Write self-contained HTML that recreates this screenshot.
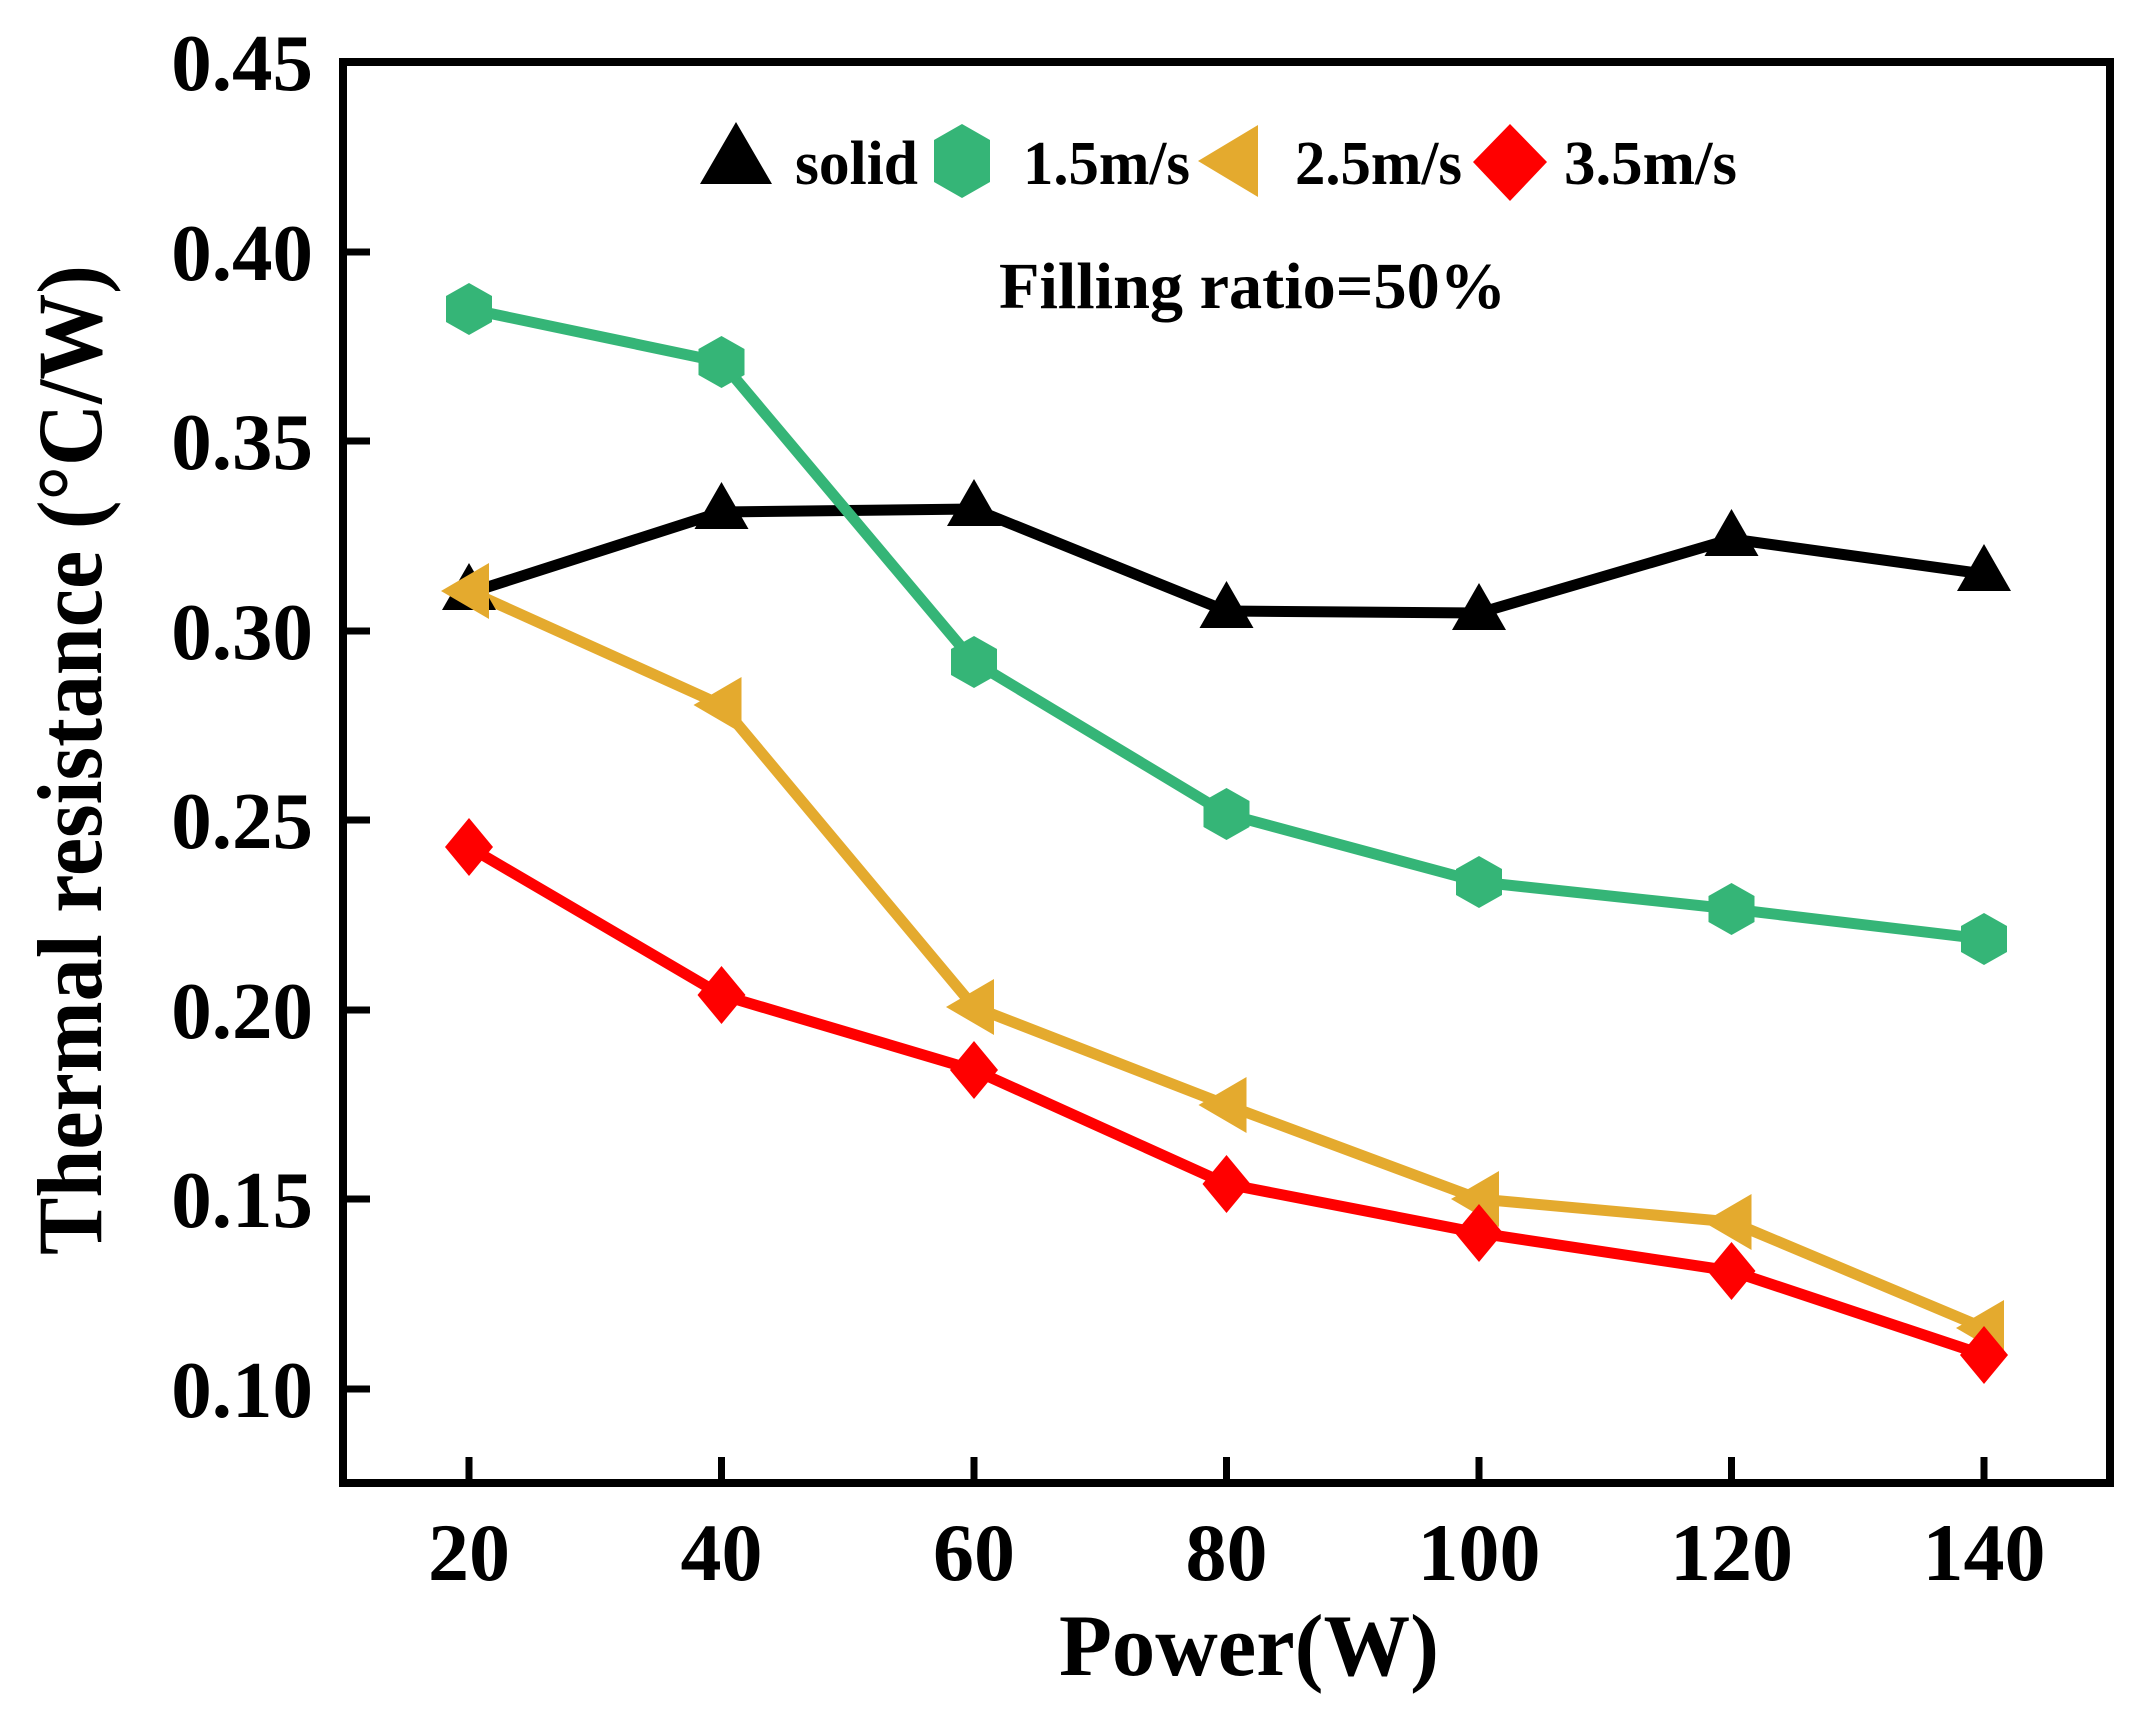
<!DOCTYPE html>
<html><head><meta charset="utf-8"><style>
html,body{margin:0;padding:0;background:#fff;width:2141px;height:1716px;overflow:hidden}
svg text{font-family:"Liberation Serif",serif;font-weight:bold;fill:#000}
</style></head><body>
<svg width="2141" height="1716" viewBox="0 0 2141 1716" xmlns="http://www.w3.org/2000/svg">
<defs>
<path id="tri" d="M0,-30 L27,17 L-27,17 Z"/>
<path id="hex" d="M0,-26 L23,-13 L23,13 L0,26 L-23,13 L-23,-13 Z"/>
<path id="ltri" d="M-28,0 L20,-28 L20,28 Z"/>
<path id="dia" d="M0,-29 L24,0 L0,29 L-24,0 Z"/>
</defs>
<rect x="343" y="62" width="1767" height="1421" fill="none" stroke="#000" stroke-width="8"/>
<g stroke="#000" stroke-width="7">
<line x1="343" y1="252" x2="370" y2="252"/><line x1="343" y1="441" x2="370" y2="441"/>
<line x1="343" y1="631" x2="370" y2="631"/><line x1="343" y1="820" x2="370" y2="820"/>
<line x1="343" y1="1010" x2="370" y2="1010"/><line x1="343" y1="1199" x2="370" y2="1199"/>
<line x1="343" y1="1389" x2="370" y2="1389"/>
<line x1="469" y1="1483" x2="469" y2="1457"/><line x1="721.5" y1="1483" x2="721.5" y2="1457"/>
<line x1="974" y1="1483" x2="974" y2="1457"/><line x1="1226.5" y1="1483" x2="1226.5" y2="1457"/>
<line x1="1479" y1="1483" x2="1479" y2="1457"/><line x1="1731.5" y1="1483" x2="1731.5" y2="1457"/>
<line x1="1984" y1="1483" x2="1984" y2="1457"/>
</g>
<g font-size="81" text-anchor="end">
<text x="313" y="90">0.45</text><text x="313" y="280">0.40</text><text x="313" y="469">0.35</text>
<text x="313" y="659">0.30</text><text x="313" y="848">0.25</text><text x="313" y="1038">0.20</text>
<text x="313" y="1227">0.15</text><text x="313" y="1417">0.10</text>
</g>
<g font-size="82" text-anchor="middle">
<text x="469" y="1580">20</text><text x="721.5" y="1580">40</text><text x="974" y="1580">60</text>
<text x="1226.5" y="1580">80</text><text x="1479" y="1580">100</text><text x="1731.5" y="1580">120</text>
<text x="1984" y="1580">140</text>
</g>
<text x="1059" y="1675" font-size="88" textLength="380" lengthAdjust="spacingAndGlyphs">Power(W)</text>
<text transform="translate(101,1255) rotate(-90)" font-size="92" textLength="990" lengthAdjust="spacingAndGlyphs">Thermal resistance (°C/W)</text>
<g fill="none" stroke-width="11" stroke-linejoin="round">
<polyline stroke="#000" points="469,593 721.5,512 974,509 1226.5,611 1479,613 1731.5,539 1984,574"/>
<polyline stroke="#35b577" points="469,309 721.5,362 974,662 1226.5,814 1479,882 1731.5,909 1984,939"/>
<polyline stroke="#e4aa2e" points="469,591 721.5,705 974,1007 1226.5,1105 1479,1199 1731.5,1222 1984,1328"/>
<polyline stroke="#ff0000" points="469,847 721.5,995 974,1070 1226.5,1184 1479,1233 1731.5,1271 1984,1355"/>
</g>
<g fill="#000">
<use href="#tri" x="469" y="593"/><use href="#tri" x="721.5" y="512"/><use href="#tri" x="974" y="509"/>
<use href="#tri" x="1226.5" y="611"/><use href="#tri" x="1479" y="613"/><use href="#tri" x="1731.5" y="539"/><use href="#tri" x="1984" y="574"/>
</g>
<g fill="#35b577">
<use href="#hex" x="469" y="309"/><use href="#hex" x="721.5" y="362"/><use href="#hex" x="974" y="662"/>
<use href="#hex" x="1226.5" y="814"/><use href="#hex" x="1479" y="882"/><use href="#hex" x="1731.5" y="909"/><use href="#hex" x="1984" y="939"/>
</g>
<g fill="#e4aa2e">
<use href="#ltri" x="469" y="591"/><use href="#ltri" x="721.5" y="705"/><use href="#ltri" x="974" y="1007"/>
<use href="#ltri" x="1226.5" y="1105"/><use href="#ltri" x="1479" y="1199"/><use href="#ltri" x="1731.5" y="1222"/><use href="#ltri" x="1984" y="1328"/>
</g>
<g fill="#ff0000">
<use href="#dia" x="469" y="847"/><use href="#dia" x="721.5" y="995"/><use href="#dia" x="974" y="1070"/>
<use href="#dia" x="1226.5" y="1184"/><use href="#dia" x="1479" y="1233"/><use href="#dia" x="1731.5" y="1271"/><use href="#dia" x="1984" y="1355"/>
</g>
<path d="M736,122 L772,184 L700,184 Z" fill="#000"/>
<path d="M962,124 L990,140 L990,182 L962,198 L934,182 L934,140 Z" fill="#35b577"/>
<path d="M1198,161 L1258,125 L1258,197 Z" fill="#e4aa2e"/>
<path d="M1510,124 L1547,162 L1510,201 L1473,162 Z" fill="#ff0000"/>
<g font-size="62">
<text x="795" y="184" textLength="123" lengthAdjust="spacingAndGlyphs">solid</text>
<text x="1023" y="184" textLength="167" lengthAdjust="spacingAndGlyphs">1.5m/s</text>
<text x="1295" y="184" textLength="167" lengthAdjust="spacingAndGlyphs">2.5m/s</text>
<text x="1564" y="184" textLength="173" lengthAdjust="spacingAndGlyphs">3.5m/s</text>
</g>
<text x="999" y="308" font-size="66" textLength="507" lengthAdjust="spacingAndGlyphs">Filling ratio=50%</text>
</svg>
</body></html>
